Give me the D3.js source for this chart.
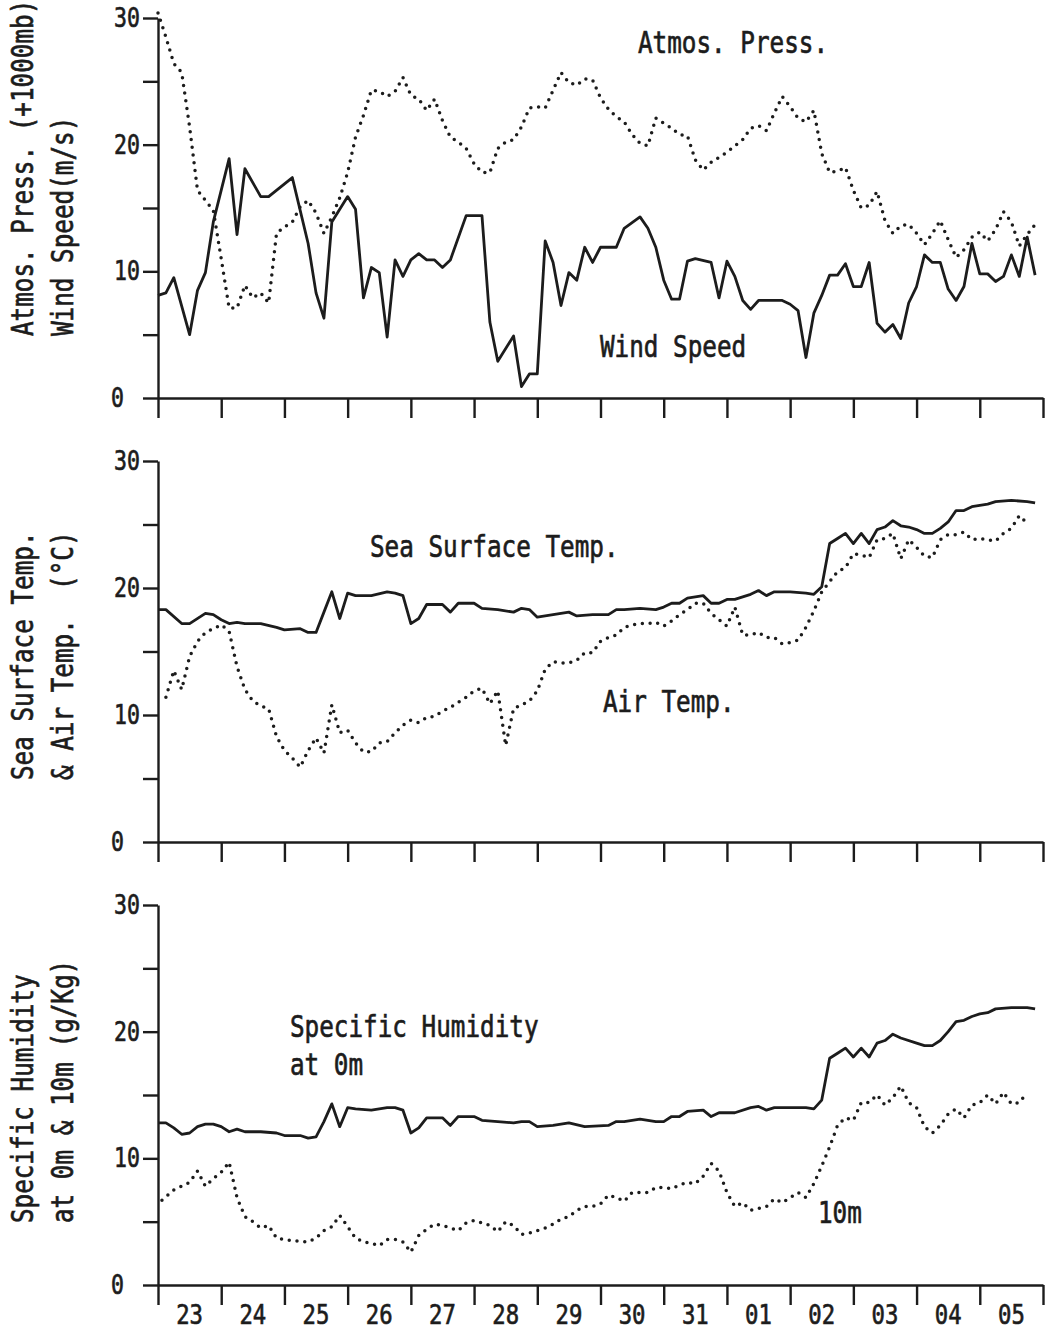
<!DOCTYPE html>
<html>
<head>
<meta charset="utf-8">
<script src="https://cdn.jsdelivr.net/npm/d3@7"></script>
<style>
  html, body { margin: 0; background: #fff; }
  svg { display: block; }
</style>
</head>
<body>
<svg id="chart" width="1052" height="1332"></svg>
<script>
// Time is counted in 3-hourly observation steps from 00h on the 23rd.
const STEP_HOURS = 3;
const dayLabels = ["23","24","25","26","27","28","29","30","31","01","02","03","04","05"];
const yTicks = [0, 5, 10, 15, 20, 25, 30];
const yTickLabels = [0, 10, 20, 30];

// [step, value]
const windSpeed = [[0,8.1],[1,8.3],[2,9.5],[4,5.0],[5,8.5],[6,9.9],[7,13.9],[9,18.9],[10,12.9],[11,18.1],[13,15.9],[14,15.9],[17,17.4],[19,12.2],[20,8.3],[21,6.3],[22,13.9],[24,15.9],[25,14.9],[26,7.9],[27,10.3],[28,9.9],[29,4.8],[30,10.9],[31,9.6],[32,10.9],[33,11.4],[34,10.9],[35,10.9],[36,10.3],[37,10.9],[39,14.4],[41,14.4],[42,6.0],[43,2.9],[45,4.9],[46,0.9],[47,1.9],[48,1.9],[49,12.4],[50,10.7],[51,7.3],[52,9.9],[53,9.3],[54,11.9],[55,10.7],[56,11.9],[58,11.9],[59,13.4],[61,14.3],[62,13.4],[63,11.9],[64,9.3],[65,7.8],[66,7.8],[67,10.8],[68,11.0],[70,10.7],[71,7.9],[72,10.8],[73,9.6],[74,7.7],[75,7.0],[76,7.7],[79,7.7],[80,7.4],[81,6.9],[82,3.2],[83,6.7],[84,8.1],[85,9.7],[86,9.7],[87,10.6],[88,8.8],[89,8.8],[90,10.7],[91,5.9],[92,5.2],[93,5.8],[94,4.7],[95,7.5],[96,8.8],[97,11.3],[98,10.7],[99,10.7],[100,8.6],[101,7.7],[102,8.8],[103,12.2],[104,9.8],[105,9.8],[106,9.2],[107,9.6],[108,11.3],[109,9.6],[110,12.7],[111,9.7]];

// pressure minus 1000 mb
const atmosPress = [[0,30.4],[1,28.5],[2,26.4],[3,25.7],[4,21.4],[5,16.4],[6,15.6],[7,14.8],[8,11.0],[9,7.1],[10,7.1],[11,8.9],[12,7.9],[13,8.3],[14,7.5],[15,13.0],[16,13.5],[17,13.9],[18,15.1],[19,15.6],[20,14.6],[21,13.0],[22,14.3],[23,15.8],[24,17.8],[25,20.6],[26,22.3],[27,24.3],[28,24.2],[29,23.8],[30,24.2],[31,25.3],[32,23.9],[33,23.6],[34,22.7],[35,23.6],[36,21.9],[37,20.6],[38,20.2],[39,19.7],[40,18.5],[41,17.8],[42,17.8],[43,19.7],[44,20.2],[45,20.4],[46,21.4],[47,22.9],[48,23.0],[49,22.9],[50,24.3],[51,25.7],[52,24.9],[53,24.7],[54,25.2],[55,25.1],[56,23.7],[57,22.8],[58,22.2],[59,21.8],[60,20.8],[61,20.1],[62,19.9],[63,22.1],[64,21.7],[65,21.3],[66,20.8],[67,20.7],[68,18.8],[69,18.0],[70,18.6],[72,19.4],[73,19.9],[74,20.4],[75,21.3],[76,21.5],[77,21.1],[78,22.5],[79,23.8],[80,23.0],[81,22.1],[82,21.8],[83,22.7],[84,19.3],[85,17.8],[86,17.9],[87,18.2],[88,16.4],[89,15.0],[90,15.2],[91,16.3],[92,14.0],[93,13.0],[94,13.6],[95,13.7],[96,13.0],[97,12.1],[98,13.0],[99,14.0],[100,12.5],[101,11.1],[102,11.7],[103,12.7],[104,13.1],[105,12.4],[106,13.3],[107,14.7],[108,13.9],[109,12.0],[110,12.9],[111,13.7]];

const seaSurfaceTemp = [[0,18.3],[1,18.3],[3,17.2],[4,17.2],[6,18.0],[7,17.9],[8,17.5],[9,17.2],[10,17.3],[11,17.2],[13,17.2],[15,16.9],[16,16.7],[18,16.8],[19,16.5],[20,16.5],[21,18.1],[22,19.7],[23,17.6],[24,19.6],[25,19.4],[27,19.4],[29,19.7],[30,19.6],[31,19.4],[32,17.2],[33,17.6],[34,18.7],[36,18.7],[37,18.1],[38,18.8],[40,18.8],[41,18.4],[43,18.3],[45,18.1],[46,18.4],[47,18.3],[48,17.7],[50,17.9],[52,18.1],[53,17.8],[55,17.9],[57,17.9],[58,18.3],[59,18.3],[61,18.4],[63,18.3],[64,18.5],[65,18.8],[66,18.8],[67,19.2],[69,19.4],[70,18.8],[71,18.8],[72,19.1],[73,19.1],[75,19.5],[76,19.8],[77,19.4],[78,19.7],[80,19.7],[82,19.6],[83,19.5],[84,20.1],[85,23.5],[86,23.9],[87,24.3],[88,23.5],[89,24.3],[90,23.5],[91,24.6],[92,24.8],[93,25.3],[94,24.9],[95,24.8],[96,24.6],[97,24.3],[98,24.3],[99,24.7],[100,25.2],[101,26.1],[102,26.1],[103,26.4],[104,26.5],[105,26.6],[106,26.8],[108,26.9],[110,26.8],[111,26.7]];

const airTemp = [[1,11.4],[2,13.5],[3,12.0],[4,14.6],[5,15.8],[6,16.5],[7,16.8],[8,17.1],[9,16.6],[10,13.8],[11,12.0],[12,11.1],[13,10.7],[14,10.5],[15,8.3],[16,7.2],[17,6.6],[18,5.9],[19,7.2],[20,8.2],[21,7.0],[22,10.8],[23,8.6],[24,8.8],[25,7.8],[26,7.1],[27,7.1],[28,7.8],[29,7.9],[30,8.6],[31,9.2],[32,9.6],[33,9.4],[34,9.8],[35,9.9],[36,10.3],[37,10.6],[38,11.0],[39,11.4],[40,11.9],[41,12.1],[42,10.9],[43,11.9],[44,7.6],[45,10.5],[46,10.8],[47,11.1],[48,11.9],[49,13.6],[50,14.2],[51,14.1],[52,14.1],[53,14.3],[54,14.9],[55,14.9],[56,15.8],[57,16.1],[58,16.3],[59,16.9],[60,17.1],[61,17.2],[62,17.2],[63,17.3],[64,17.0],[65,17.4],[66,17.9],[67,18.3],[68,18.8],[69,18.8],[70,18.0],[71,17.5],[72,17.0],[73,18.5],[74,16.3],[75,16.3],[76,16.5],[77,16.1],[78,16.1],[79,15.6],[80,15.7],[81,15.9],[82,16.9],[83,18.2],[84,19.7],[85,20.5],[86,21.3],[87,21.6],[88,22.7],[89,22.6],[90,22.4],[91,23.8],[92,23.9],[93,24.3],[94,22.3],[95,23.8],[96,23.2],[97,22.5],[98,22.4],[99,23.8],[100,24.2],[101,24.2],[102,24.4],[103,23.8],[104,23.9],[105,23.8],[106,23.7],[107,24.3],[108,24.7],[109,25.7],[110,25.1]];

const humidity0m = [[0,12.8],[1,12.8],[2,12.4],[3,11.9],[4,12.0],[5,12.5],[6,12.7],[7,12.7],[8,12.5],[9,12.1],[10,12.3],[11,12.1],[13,12.1],[15,12.0],[16,11.8],[18,11.8],[19,11.6],[20,11.7],[21,12.9],[22,14.3],[23,12.5],[24,14.0],[25,13.9],[27,13.8],[29,14.0],[30,14.0],[31,13.8],[32,12.0],[33,12.4],[34,13.2],[36,13.2],[37,12.6],[38,13.3],[40,13.3],[41,13.0],[43,12.9],[45,12.8],[46,12.9],[47,12.9],[48,12.5],[50,12.6],[52,12.8],[54,12.5],[57,12.6],[58,12.9],[59,12.9],[61,13.1],[63,12.9],[64,12.9],[65,13.3],[66,13.3],[67,13.7],[69,13.8],[70,13.3],[71,13.6],[73,13.6],[75,14.0],[76,14.1],[77,13.8],[78,14.0],[80,14.0],[82,14.0],[83,13.9],[84,14.6],[85,17.9],[86,18.3],[87,18.7],[88,18.0],[89,18.7],[90,18.0],[91,19.1],[92,19.3],[93,19.8],[94,19.5],[96,19.1],[97,18.9],[98,18.9],[99,19.3],[100,20.0],[101,20.8],[102,20.9],[103,21.2],[104,21.4],[105,21.5],[106,21.8],[108,21.9],[110,21.9],[111,21.8]];

const humidity10m = [[0.5,6.7],[2,7.5],[3,7.8],[4,8.1],[5,9.0],[6,7.8],[7,8.4],[8,8.9],[9,9.7],[10,6.9],[11,5.4],[12,5.0],[13,4.5],[14,4.7],[15,3.7],[17,3.5],[19,3.4],[20,3.7],[21,4.3],[22,4.6],[23,5.5],[24,4.6],[25,3.7],[26,3.4],[27,3.3],[28,3.1],[29,3.6],[30,3.6],[31,3.4],[32,2.6],[33,3.9],[34,4.4],[35,4.8],[36,4.7],[37,4.5],[38,4.3],[39,4.9],[40,5.1],[41,4.9],[42,4.7],[43,4.2],[44,5.0],[45,4.7],[46,4.0],[47,4.1],[48,4.3],[49,4.5],[50,4.8],[51,5.2],[52,5.4],[53,5.9],[54,6.2],[55,6.2],[56,6.4],[57,7.1],[58,6.9],[59,6.6],[60,7.3],[61,7.3],[62,7.3],[63,7.7],[64,7.7],[65,7.6],[66,7.9],[67,8.1],[68,8.0],[69,8.6],[70,9.6],[71,9.0],[72,7.3],[73,6.2],[74,6.5],[75,5.9],[77,6.2],[78,6.8],[79,6.5],[80,6.9],[81,7.3],[82,6.9],[83,8.0],[84,9.4],[85,10.9],[86,12.6],[87,13.2],[88,13.0],[89,14.4],[90,14.4],[91,15.0],[92,14.2],[93,14.8],[94,15.7],[95,14.4],[96,14.0],[97,12.5],[98,12.0],[99,12.6],[100,13.5],[101,13.9],[102,13.2],[103,14.2],[104,14.4],[105,15.0],[106,14.3],[107,15.2],[108,14.3],[109,14.4],[110,15.2]];

// ---------------------------------------------------------------
const INK = "#1c1c1c";
const FONT = "DejaVu Sans Mono, monospace";
const svg = d3.select("#chart");

const x = d3.scaleLinear()
  .domain([0, dayLabels.length * 24])
  .range([158, 1043]);
const hourOf = d => d[0] * STEP_HOURS;

// text drawn in a tall, narrow plotter style
function plotText(g, str, px, py, size, stretch, anchor, rotate) {
  return g.append("text")
    .attr("transform", `translate(${px},${py})` + (rotate ? " rotate(-90)" : "") + ` scale(1,${stretch})`)
    .attr("text-anchor", anchor || "start")
    .attr("font-family", FONT)
    .attr("font-size", size)
    .attr("fill", INK)
    .attr("stroke", INK)
    .attr("stroke-width", 0.55)
    .attr("xml:space", "preserve")
    .style("white-space", "pre")
    .text(str);
}

const panels = [
  {
    top: 18, bottom: 398,
    series: [{ data: atmosPress, dotted: true }, { data: windSpeed }],
    yTitle: ["Atmos. Press. (+1000mb)", "Wind Speed(m/s)"],
    notes: [["Atmos. Press.", 638, 53], ["Wind Speed", 600, 357]]
  },
  {
    top: 461, bottom: 842,
    series: [{ data: airTemp, dotted: true }, { data: seaSurfaceTemp }],
    yTitle: ["Sea Surface Temp.", "& Air Temp.  (\u00B0C)"],
    notes: [["Sea Surface Temp.", 370, 557], ["Air Temp.", 603, 712]]
  },
  {
    top: 905, bottom: 1285,
    series: [{ data: humidity10m, dotted: true }, { data: humidity0m }],
    yTitle: ["Specific Humidity", "at 0m & 10m (g/Kg)"],
    notes: [["Specific Humidity", 290, 1037], ["at 0m", 290, 1075], ["10m", 818, 1223]]
  }
];

panels.forEach((p, i) => {
  const g = svg.append("g");
  const y = d3.scaleLinear().domain([0, 30]).range([p.bottom, p.top]);

  // left axis with minor ticks every 5
  const yAxis = g.append("g")
    .attr("transform", `translate(${x(0)},0)`)
    .call(d3.axisLeft(y).tickValues(yTicks).tickSize(15).tickSizeOuter(0).tickFormat(""));

  // day axis, ticks hanging below the zero line
  const xAxis = g.append("g")
    .attr("transform", `translate(0,${y(0)})`)
    .call(d3.axisBottom(x).tickValues(d3.range(0, dayLabels.length + 1).map(d => d * 24))
      .tickSize(20).tickSizeOuter(0).tickFormat(""));

  [yAxis, xAxis].forEach(a => {
    a.selectAll(".domain, .tick line").attr("stroke", INK).attr("stroke-width", 2.4);
  });

  yTickLabels.forEach(v => {
    plotText(g, String(v), v === 0 ? 111 : 140, y(v) + 9, 21.5, 1.2, v === 0 ? "start" : "end");
  });

  // series
  const line = d3.line().x(d => x(hourOf(d))).y(d => y(d[1]));
  p.series.forEach(s => {
    const path = g.append("path")
      .datum(s.data)
      .attr("d", line)
      .attr("fill", "none")
      .attr("stroke", INK)
      .attr("stroke-linejoin", "round");
    if (s.dotted) {
      path.attr("stroke-width", 3.5)
        .attr("stroke-linecap", "round")
        .attr("stroke-dasharray", "0 7.8");
    } else {
      path.attr("stroke-width", 2.8);
    }
  });

  // rotated axis title, two lines sharing the same start
  const startY = p.bottom - 62;
  plotText(g, p.yTitle[0], 33, startY, 24.3, 1.22, "start", true);
  plotText(g, p.yTitle[1], 73, startY, 24.3, 1.22, "start", true);

  p.notes.forEach(n => plotText(g, n[0], n[1], n[2], 24.3, 1.22, "start"));

  if (i === panels.length - 1) {
    dayLabels.forEach((lab, k) => {
      plotText(g, lab, x(k * 24 + 12), 1324, 22.3, 1.22, "middle");
    });
  }
});
</script>
</body>
</html>
